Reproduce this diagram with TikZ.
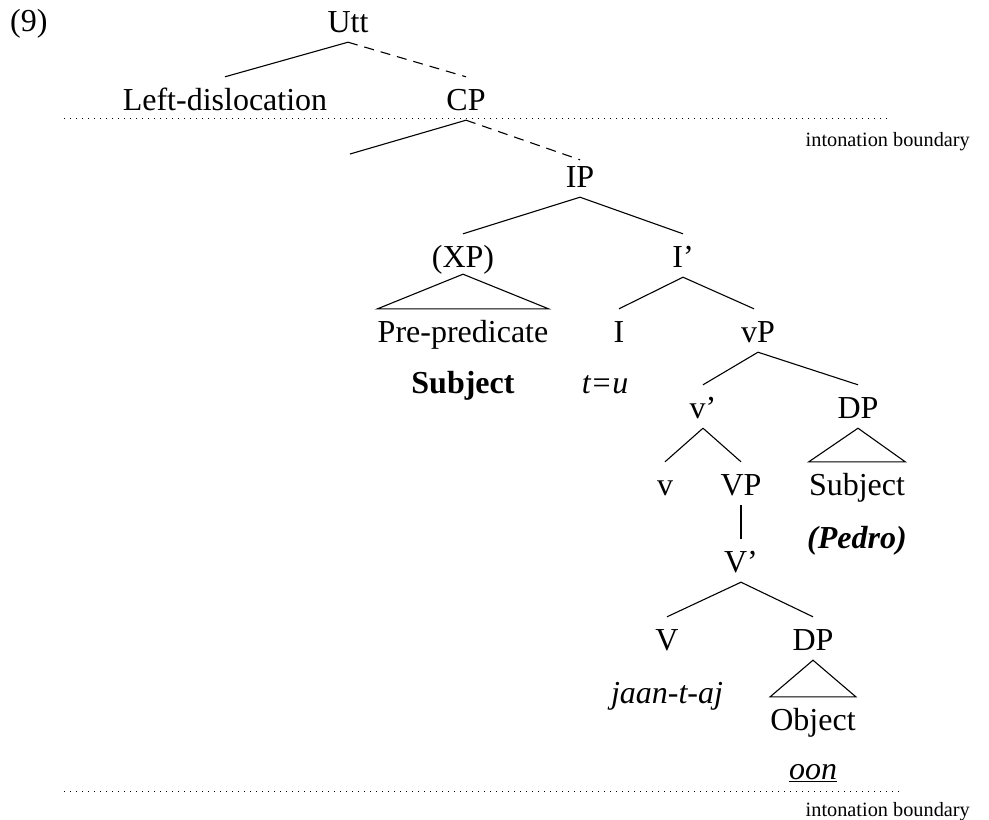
\documentclass[tikz,border=0pt]{standalone}
\usepackage{fontspec}
\setmainfont{Liberation Serif}
\begin{document}
\begin{tikzpicture}[x=1pt,y=-1pt,
  lbl/.style={anchor=base,font=\fontsize{32}{38}\selectfont,inner xsep=0pt,inner ysep=10pt,text height=23pt,text depth=0pt},
  small/.style={font=\fontsize{20.3}{24}\selectfont,inner sep=0pt},
  edge/.style={line width=1.1pt},
  dedge/.style={line width=1.1pt,dash pattern=on 10pt off 7pt},
  bound/.style={line width=1pt,dash pattern=on 0.9pt off 5.1pt}]
\useasboundingbox (0,0) rectangle (989,820);
% labels
\node[lbl,anchor=base west] (ex) at (10,31) {(9)};
\node[lbl] (Utt) at (348,32) {Utt};
\node[lbl] (LD) at (225,110) {Left-dislocation};
\node[lbl] (CP) at (466,110) {CP};
\node[lbl] (IP) at (580,187) {IP};
\node[lbl] (XP) at (463,267) {(XP)};
\node[lbl] (Ib) at (683,267) {I'};
\node[lbl] (PP) at (463,342) {Pre-predicate};
\node[lbl] (I) at (619,342) {I};
\node[lbl] (vP) at (758,342) {vP};
\node[lbl] (Subj) at (463,393) {\textbf{Subject}};
\node[lbl] (tu) at (605,393) {\textit{t=u}};
\node[lbl] (vb) at (703,418) {v'};
\node[lbl] (DP1) at (858,418) {DP};
\node[lbl] (v) at (665,495) {v};
\node[lbl] (VP) at (741,495) {VP};
\node[lbl] (Subj2) at (857,495) {Subject};
\node[lbl] (Pedro) at (857,548) {\textit{\textbf{(Pedro)}}};
\node[lbl] (Vb) at (741,572) {V'};
\node[lbl] (V) at (667,650) {V};
\node[lbl] (DP2) at (813,650) {DP};
\node[lbl] (jaan) at (667,703) {\textit{jaan-t-aj}};
\node[lbl] (Obj) at (813,730) {Object};
\node[lbl] (oon) at (813,779) {\underline{\textit{oon}}};
% boundaries
\coordinate (b1s) at (64,118);
\coordinate (b1e) at (887,118);
\coordinate (b2s) at (64,791);
\coordinate (b2e) at (900,791);
\draw[bound] (b1s) -- (b1e);
\draw[bound] (b2s) -- (b2e);
\node[small,anchor=base east] (ib1) at (970,146) {intonation boundary};
\node[small,anchor=base east] (ib2) at (970,816) {intonation boundary};
% edges
\coordinate (CPl) at (350,154);
\draw[edge] (Utt.south) -- (LD.north);
\draw[dedge] (Utt.south) -- (CP.north);
\draw[edge] (CP.south) -- (CPl);
\draw[dedge] (CP.south) -- ([yshift=-6pt]IP.north);
\draw[edge] (IP.south) -- (XP.north);
\draw[edge] (IP.south) -- (Ib.north);
\draw[edge] (PP.north west) -- ([yshift=3pt]XP.south) -- (PP.north east) -- cycle;
\draw[edge] (Ib.south) -- (I.north);
\draw[edge] (Ib.south) -- ([xshift=-4pt]vP.north);
\draw[edge] (vP.south) -- (vb.north);
\draw[edge] (vP.south) -- (DP1.north);
\draw[edge] (vb.south) -- (v.north);
\draw[edge] (vb.south) -- (VP.north);
\draw[edge] (Subj2.north west) -- (DP1.south) -- (Subj2.north east) -- cycle;
\draw[edge] (VP.south) -- (Vb.north);
\draw[edge] (Vb.south) -- (V.north);
\draw[edge] (Vb.south) -- (DP2.north);
\draw[edge] (Obj.north west) -- (DP2.south) -- (Obj.north east) -- cycle;
\end{tikzpicture}
\end{document}
